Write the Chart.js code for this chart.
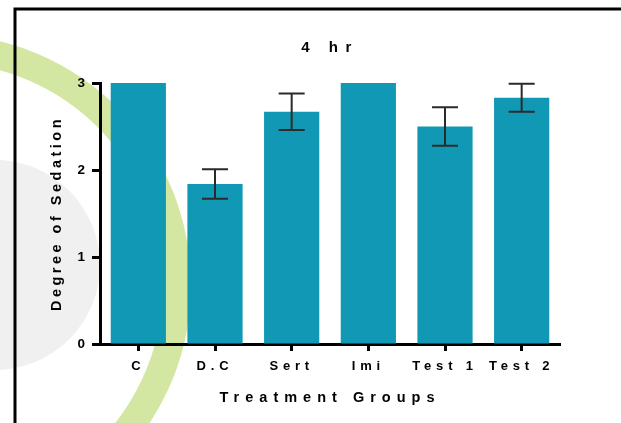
<!DOCTYPE html>
<html>
<head>
<meta charset="utf-8">
<script src="https://cdn.jsdelivr.net/npm/chart.js@4/dist/chart.umd.min.js"></script>
<style>
  html, body { margin: 0; padding: 0; background: #fff; overflow: hidden; }
  #wrap { width: 621px; height: 423px; }
</style>
</head>
<body>
<div id="wrap"><canvas id="chart" width="621" height="423"></canvas></div>
<script>
// Sedation score per treatment group (mean ± SEM)
const groups = ['C', 'D.C', 'Sert', 'Imi', 'Test 1', 'Test 2'];
const meanSedation = [3, 1.84, 2.67, 3, 2.5, 2.83];
const semSedation = [0, 0.17, 0.21, 0, 0.22, 0.16];
const yTicks = [0, 1, 2, 3];

const FONT = 'Arial, "Liberation Sans", Helvetica, sans-serif';
const BAR_COLOR = 'rgb(16,152,180)';

// Prism-style wide letter spacing for the labels
const textSpacing = { '4 hr': 7.5, 'Treatment Groups': 6, 'Degree of Sedation': 3.5 };
function spacingFor(text) {
  const t = String(text);
  if (t in textSpacing) return textSpacing[t];
  if (groups.includes(t)) return 4.8;
  return 0;
}

const canvas = document.getElementById('chart');
const ctx = canvas.getContext('2d');
const proto = CanvasRenderingContext2D.prototype;
ctx.fillText = function (text, x, y, maxWidth) {
  this.letterSpacing = spacingFor(text) + 'px';
  return maxWidth === undefined
    ? proto.fillText.call(this, text, x, y)
    : proto.fillText.call(this, text, x, y, maxWidth);
};
ctx.measureText = function (text) {
  this.letterSpacing = spacingFor(text) + 'px';
  return proto.measureText.call(this, text);
};

// Page background, faint logo watermark and the outer frame
const backdrop = {
  id: 'backdrop',
  beforeDraw(chart) {
    const c = chart.ctx;
    c.save();
    c.fillStyle = '#fff';
    c.fillRect(0, 0, chart.width, chart.height);

    c.fillStyle = '#f0f0f0';
    c.beginPath();
    c.arc(-5, 265, 105, 0, Math.PI * 2);
    c.fill();

    c.strokeStyle = '#d4e7a2';
    c.lineWidth = 28;
    c.beginPath();
    c.arc(-60, 285, 237, -1.9, 1.2);
    c.stroke();

    c.strokeStyle = '#000';
    c.lineWidth = 3;
    c.beginPath();
    c.moveTo(15, 423);
    c.lineTo(15, 9);
    c.lineTo(621, 9);
    c.stroke();
    c.restore();
  }
};

// SEM whiskers drawn through the value scale
const errorBars = {
  id: 'errorBars',
  afterDatasetsDraw(chart) {
    const c = chart.ctx;
    const y = chart.scales.y;
    const meta = chart.getDatasetMeta(0);
    c.save();
    c.strokeStyle = '#2a2a2a';
    c.lineWidth = 2;
    meta.data.forEach((bar, i) => {
      const e = semSedation[i];
      if (!e) return;
      const top = y.getPixelForValue(meanSedation[i] + e);
      const bottom = y.getPixelForValue(meanSedation[i] - e);
      const x = bar.x;
      const cap = 13;
      c.beginPath();
      c.moveTo(x, top); c.lineTo(x, bottom);
      c.moveTo(x - cap, top); c.lineTo(x + cap, top);
      c.moveTo(x - cap, bottom); c.lineTo(x + cap, bottom);
      c.stroke();
    });
    c.restore();
  }
};

new Chart(ctx, {
  type: 'bar',
  data: {
    labels: groups,
    datasets: [{
      data: meanSedation,
      backgroundColor: BAR_COLOR,
      borderWidth: 0,
      barPercentage: 0.9,
      categoryPercentage: 0.8
    }]
  },
  options: {
    responsive: false,
    animation: false,
    events: [],
    layout: { padding: { left: 0, right: 61, top: 0, bottom: 0 } },
    plugins: {
      legend: { display: false },
      tooltip: { enabled: false },
      title: {
        display: true,
        text: '4 hr',
        fullSize: false,
        color: '#000',
        font: { family: FONT, size: 15, weight: 'bold', lineHeight: 1.2 },
        padding: { top: 38.5, bottom: 26.5 }
      }
    },
    scales: {
      x: {
        grid: {
          display: true,
          offset: false,
          drawOnChartArea: false,
          drawTicks: true,
          tickLength: 7,
          tickWidth: 3,
          tickColor: '#000'
        },
        border: { display: true, color: '#000', width: 3 },
        ticks: {
          color: '#000',
          padding: 8,
          maxRotation: 0,
          autoSkip: false,
          font: { family: FONT, size: 13, weight: 'bold' }
        },
        title: {
          display: true,
          text: 'Treatment Groups',
          color: '#000',
          font: { family: FONT, size: 14.5, weight: 'bold', lineHeight: 1.2 },
          padding: { top: 4, bottom: 16 }
        },
        afterFit(scale) { scale.height = 79; }
      },
      y: {
        min: 0,
        max: 3,
        afterBuildTicks(scale) { scale.ticks = yTicks.map(v => ({ value: v })); },
        grid: {
          display: true,
          drawOnChartArea: false,
          drawTicks: true,
          tickLength: 8,
          tickWidth: 3,
          tickColor: '#000'
        },
        border: { display: true, color: '#000', width: 3 },
        ticks: {
          color: '#000',
          padding: 7,
          font: { family: FONT, size: 13.5, weight: 'bold' }
        },
        title: {
          display: true,
          text: 'Degree of Sedation',
          color: '#000',
          font: { family: FONT, size: 14.5, weight: 'bold', lineHeight: 1.2 },
          padding: { top: 48.3, bottom: 4 }
        },
        afterFit(scale) { scale.width = 100; }
      }
    }
  },
  plugins: [backdrop, errorBars]
});
</script>
</body>
</html>
